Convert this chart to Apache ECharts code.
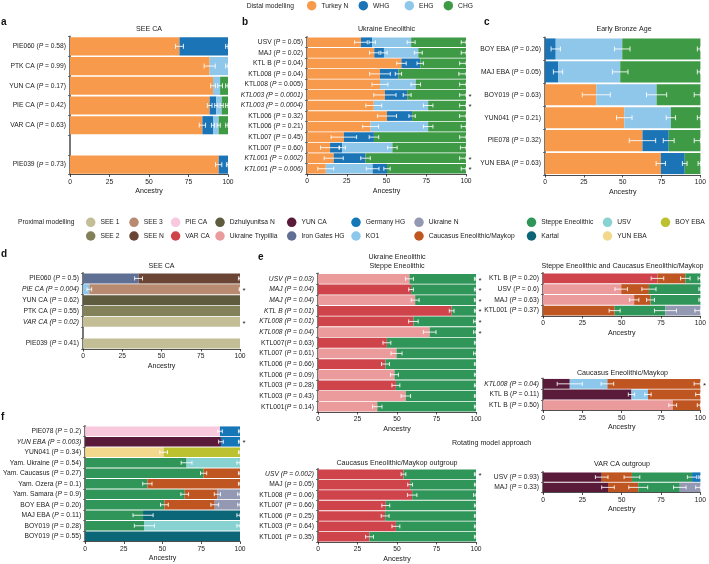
<!DOCTYPE html>
<html>
<head>
<meta charset="utf-8">
<script src="https://cdn.jsdelivr.net/npm/echarts@6/dist/echarts.min.js"></script>
<style>html,body{margin:0;padding:0;background:#fff}#c{width:709px;height:564px}</style>
</head>
<body>
<div id="c"></div>
<script>
// ---------- data ----------
const aLabels = ['PIE060 (P = 0.58)','PTK CA (P = 0.99)','YUN CA (P = 0.17)','PIE CA (P = 0.42)','VAR CA (P = 0.63)','','PIE039 (P = 0.73)'];
const aItalic = [0,0,0,0,0,0,0];
const aTurkey = [69.3, 88.4, 90.5, 88.4, 83.8, 0, 94.1];
const aWHG    = [30.7, 0, 0, 4.2, 6.7, 0, 5.9];
const aEHG    = [0, 11.6, 4.5, 3.4, 3.6, 0, 0];
const aCHG    = [0, 0, 5, 4, 5.9, 0, 0];
const aErr = [[2.5,1.5],[3.5,1.5],[1.5,1.5,1.5],[1.5,1,1,1.5],[2,1,1,1.5],[],[2,1]];

const bLabels = ['USV (P = 0.05)','MAJ (P = 0.02)','KTL B (P = 0.04)','KTL008 (P = 0.04)','KTL008 (P = 0.005)','KTL003 (P = 0.0001)','KTL003 (P = 0.0004)','KTL006 (P = 0.32)','KTL006 (P = 0.21)','KTL007 (P = 0.45)','KTL007 (P = 0.60)','KTL001 (P = 0.002)','KTL001 (P = 0.006)'];
const bItalic = [0,0,0,0,0,1,1,0,0,0,0,1,1];
const bTurkey = [33.9,42.3,59.4,45.9,45.9,49,42,50.3,40,23.2,14.5,16.8,11.8];
const bEHGpre = [0,0,0,0,0,0,0,0,0,0,0,0,29.5];
const bWHG    = [7.1,6.1,11.8,11.6,0,14,0,15.8,0,18.9,7.6,20,9];
const bEHG    = [24.5,21.6,0,0,22.5,0,34.2,0,36.2,0,31.6,0,0];
const bCHG    = [34.5,30,28.8,42.5,31.6,37,23.8,33.9,23.8,57.9,46.3,63.2,49.7];
const bErr = [[4,2,2.5,3],[3,2,2.5,3],[3,2,4],[6.5,2,4.5],[5,3,4],[7,2.5,4],[5,3,4],[6,2,4],[5,3,3],[8,3,4],[6,2,3,3.5],[6,3,4],[5,4,2,3]];

const cLabels = ['BOY EBA (P = 0.26)','MAJ EBA (P = 0.05)','BOY019 (P = 0.63)','YUN041 (P = 0.21)','PIE078 (P = 0.32)','YUN EBA (P = 0.63)'];
const cItalic = [0,0,0,0,0,0];
const cTurkey = [0,0,33,51,62.7,74.5];
const cWHG    = [6.9,8.4,0,0,16.9,15.4];
const cEHG    = [42.8,40,38.8,30,0,0];
const cCHG    = [50.3,51.6,28.2,19,20.4,10.1];
const cErr = [[3,5,2],[3,5,2],[9,6.5,4],[5,3,2],[8.5,3.5,4],[3,1.5,1.5]];

const dLabels = ['PIE060 (P = 0.5)','PIE CA (P = 0.004)','YUN CA (P = 0.62)','PTK CA (P = 0.55)','VAR CA (P = 0.02)','','PIE039 (P = 0.41)'];
const dItalic = [0,1,0,0,1,0,0];
const dIronGates = [35.4,0,0,0,0,0,0];
const dKO1       = [0,4,0,0,0,0,0];
const dSEEN      = [64.6,0,0,0,0,0,0];
const dSEE3      = [0,96,0,0,0,0,0];
const dDzhul     = [0,0,100,0,0,0,0];
const dSEE2      = [0,0,0,100,0,0,0];
const dSEE1      = [0,0,0,0,100,0,100];
const dErr = [[2.5,1],[1.5,0.5],[],[],[],[],[]];

const e1Labels = ['USV (P = 0.03)','MAJ (P = 0.04)','MAJ (P = 0.04)','KTL B (P = 0.01)','KTL008 (P = 0.01)','KTL008 (P = 0.04)','KTL007(P = 0.63)','KTL007 (P = 0.61)','KTL006 (P = 0.66)','KTL006 (P = 0.09)','KTL003 (P = 0.28)','KTL003 (P = 0.43)','KTL001(P = 0.14)'];
const e1Italic = [1,1,1,1,1,1,0,0,0,0,0,0,0];
const e1VAR    = [0,58.9,0,84.6,60.4,0,43.6,0,42.7,0,49.3,0,0];
const e1Tryp   = [57.9,0,61.5,0,0,70.7,0,49.7,0,48.4,0,55.6,37.5];
const e1Steppe = [42.1,41.1,38.5,15.4,39.6,29.3,56.4,50.3,57.3,51.6,50.7,44.4,62.5];
const e1Err = [[2.5,1],[1.5,1],[2.5,1],[1.5,1],[3,1.5],[4,1.5],[2.5,1],[3.5,1.5],[2.5,1],[2.5,1],[2.5,1],[3,1],[3,1]];

const e2Labels = ['KTL B (P = 0.20)','USV (P = 0.6)','MAJ (P = 0.63)','KTL001 (P = 0.37)'];
const e2Italic = [0,0,0,0];
const e2VAR    = [72.7,0,0,0];
const e2Tryp   = [0,49.7,57.9,0];
const e2Cauc   = [17.7,17.6,10.4,45.5];
const e2Steppe = [9.6,32.7,31.7,32.3];
const e2UkrN   = [0,0,0,22.2];
const e2Err = [[4,3,1.5],[4,4.5,1],[3,2.5,1],[3.5,7,3.5]];

const e3Labels = ['KTL008 (P = 0.04)','KTL B (P = 0.11)','KTL B (P = 0.50)'];
const e3Italic = [1,0,0];
const e3YUNCA  = [17,56.2,0];
const e3KO1    = [23.9,10.5,0];
const e3Tryp   = [0,0,82.4];
const e3Cauc   = [59.1,33.3,17.6];
const e3Err = [[8,4,4],[2,2,3],[2.5,2]];

const e4Labels = ['USV (P = 0.002)','MAJ (P = 0.05)','KTL008 (P = 0.06)','KTL007 (P = 0.66)','KTL006 (P = 0.25)','KTL003 (P = 0.64)','KTL001 (P = 0.35)'];
const e4Italic = [1,0,0,0,0,0,0];
const e4VAR    = [54.1,58.3,59.6,42.9,42.5,49.3,32.6];
const e4Steppe = [45.9,41.7,40.4,57.1,57.5,50.7,67.4];
const e4Err = [[1.5,1],[1.5,1],[3,1.5],[2.5,1],[2.5,1],[2.5,1],[2.5,1]];

const e5Labels = ['USV (P = 0.93)','MAJ (P = 0.33)'];
const e5Italic = [0,0];
const e5YUNCA  = [37.3,41.3];
const e5Cauc   = [19.2,19.2];
const e5Steppe = [38.2,26.4];
const e5GerHG  = [5.3,0];
const e5UkrN   = [0,13.1];
const e5Err = [[4,5,3,1],[4,6,4,3]];

const fLabels = ['PIE078 (P = 0.2)','YUN EBA (P = 0.003)','YUN041 (P = 0.34)','Yam. Ukraine (P = 0.54)','Yam. Caucasus (P = 0.27)','Yam. Ozera (P = 0.1)','Yam. Samara (P = 0.9)','BOY EBA (P = 0.20)','MAJ EBA (P = 0.11)','BOY019 (P = 0.28)','BOY019 (P = 0.55)'];
const fItalic = [0,1,0,0,0,0,0,0,0,0,0];
const fPIECA   = [87.1,0,0,0,0,0,0,0,0,0,0];
const fYUNCA   = [0,87.7,0,0,0,0,0,0,0,0,0];
const fYUNEBA  = [0,0,50.7,0,0,0,0,0,0,0,0];
const fSteppe  = [0,0,0,65.5,76.5,40.2,64.3,51.2,37.4,38.3,0];
const fCauc    = [0,0,0,0,23.5,59.8,21.1,32.5,0,0,0];
const fUkrN    = [0,0,0,0,0,0,14.6,16.3,0,0,0];
const fGerHG   = [12.9,12.3,0,0,0,0,0,0,0,0,0];
const fBOYEBA  = [0,0,49.3,0,0,0,0,0,0,0,0];
const fUSV     = [0,0,0,34.5,0,0,0,0,0,61.7,0];
const fKartal  = [0,0,0,0,0,0,0,0,62.6,0,100];
const fErr = [[1.5,1],[1.5,1],[2.5,1],[3.5,2],[2,1],[3,1],[2.5,2,1.5],[2.5,2.5,1.5],[6.5,2],[6.5,2],[]];

const xTicks = [0, 25, 50, 75, 100];

// ---------- style ----------
const FONT = '"Liberation Sans", Arial, Helvetica, sans-serif';
const LFS = 6.7;
const COL = {
  'Turkey N':'#f89a4c','WHG':'#1a74b6','EHG':'#8fc7ea','CHG':'#3f9a46',
  'SEE 1':'#c4be97','SEE 2':'#83815a','SEE 3':'#b88b70','SEE N':'#6a4434',
  'PIE CA':'#f8c8dd','VAR CA':'#cf444b','Dzhulyunitsa N':'#5f5b3f','Ukraine Trypillia':'#eb9b9b',
  'YUN CA':'#5a1a3a','Iron Gates HG':'#5f7094','Germany HG':'#1576b8','KO1':'#8dc7ec',
  'Ukraine N':'#9499b3','Caucasus Eneolithic/Maykop':'#bf5520','Steppe Eneolithic':'#2f9558',
  'Kartal':'#0b6678','USV':'#88d2d2','YUN EBA':'#f1d88c','BOY EBA':'#bcc12f'
};
const CA = 'Caucasus Eneolithic/Maykop', SE = 'Steppe Eneolithic';

const panels = [
  {grid:{left:70,top:36.5,width:158,height:138}, labels:aLabels, italic:aItalic, err:aErr,
   series:[['Turkey N',aTurkey],['WHG',aWHG],['EHG',aEHG],['CHG',aCHG]]},
  {grid:{left:307,top:37,width:159,height:137}, labels:bLabels, italic:bItalic, err:bErr,
   series:[['Turkey N',bTurkey],['EHG',bEHGpre],['WHG',bWHG],['EHG',bEHG],['CHG',bCHG]]},
  {grid:{left:545,top:37.5,width:158,height:137.5}, labels:cLabels, italic:cItalic, err:cErr,
   series:[['Turkey N',cTurkey],['WHG',cWHG],['EHG',cEHG],['CHG',cCHG]]},
  {grid:{left:83,top:273,width:157,height:76}, labels:dLabels, italic:dItalic, err:dErr,
   series:[['Iron Gates HG',dIronGates],['KO1',dKO1],['SEE N',dSEEN],['SEE 3',dSEE3],['Dzhulyunitsa N',dDzhul],['SEE 2',dSEE2],['SEE 1',dSEE1]]},
  {grid:{left:318,top:273.5,width:158,height:138.5}, labels:e1Labels, italic:e1Italic, err:e1Err,
   series:[['VAR CA',e1VAR],['Ukraine Trypillia',e1Tryp],[SE,e1Steppe]]},
  {grid:{left:543,top:273,width:159,height:43}, labels:e2Labels, italic:e2Italic, err:e2Err,
   series:[['VAR CA',e2VAR],['Ukraine Trypillia',e2Tryp],[CA,e2Cauc],[SE,e2Steppe],['Ukraine N',e2UkrN]]},
  {grid:{left:543,top:378.5,width:159,height:32}, labels:e3Labels, italic:e3Italic, err:e3Err,
   series:[['YUN CA',e3YUNCA],['KO1',e3KO1],['Ukraine Trypillia',e3Tryp],[CA,e3Cauc]]},
  {grid:{left:318,top:469,width:158,height:73}, labels:e4Labels, italic:e4Italic, err:e4Err,
   series:[['VAR CA',e4VAR],[SE,e4Steppe]]},
  {grid:{left:543,top:472,width:158,height:20.5}, labels:e5Labels, italic:e5Italic, err:e5Err,
   series:[['YUN CA',e5YUNCA],[CA,e5Cauc],[SE,e5Steppe],['Germany HG',e5GerHG],['Ukraine N',e5UkrN]]},
  {grid:{left:83,top:426,width:157,height:115.5}, labels:fLabels, italic:fItalic, err:fErr,
   series:[['PIE CA',fPIECA],['YUN CA',fYUNCA],['YUN EBA',fYUNEBA],[SE,fSteppe],[CA,fCauc],['Ukraine N',fUkrN],['Germany HG',fGerHG],['BOY EBA',fBOYEBA],['USV',fUSV],['Kartal',fKartal]]}
];

function fmtLabel(s, it) {
  if (!s) return '';
  const k = s.indexOf('P = ');
  const st = it ? 'it' : 'n';
  return '{' + st + '|' + s.slice(0, k) + '}{it|P}{' + st + '|' + s.slice(k + 1) + '}';
}

const grids = [], xAxes = [], yAxes = [], series = [];
panels.forEach((p, i) => {
  grids.push(p.grid);
  xAxes.push({
    type:'value', gridIndex:i, min:0, max:100, interval:25,
    axisLine:{show:true, lineStyle:{color:'#222', width:0.8}},
    axisTick:{show:true, length:2.5, lineStyle:{color:'#222', width:0.8}},
    axisLabel:{fontSize:LFS, fontFamily:FONT, color:'#222', margin:4,
      formatter:v => xTicks.includes(v) ? String(v) : ''},
    splitLine:{show:false},
    name:'Ancestry', nameLocation:'middle', nameGap:13.5,
    nameTextStyle:{fontSize:7.1, fontFamily:FONT, color:'#222'}
  });
  yAxes.push({
    type:'category', gridIndex:i, inverse:true,
    data:p.labels.map((_, r) => String(r)),
    axisLine:{show:true, lineStyle:{color:'#777', width:2}},
    axisTick:{show:true, interval:0, length:2, lineStyle:{color:'#555', width:0.8}},
    axisLabel:{margin:4, interval:0, formatter:(v, idx) => fmtLabel(p.labels[idx], p.italic[idx]),
      rich:{n:{fontSize:LFS, fontFamily:FONT, color:'#1a1a1a'},
            it:{fontSize:LFS, fontFamily:FONT, color:'#1a1a1a', fontStyle:'italic'}}}
  });
  p.series.forEach(([name, data]) => {
    series.push({
      type:'bar', name, xAxisIndex:i, yAxisIndex:i, stack:'s' + i, data,
      barCategoryGap:'8%', itemStyle:{color:COL[name]}, silent:true,
      emphasis:{disabled:true}
    });
  });
  series.push({
    type:'custom', name:'err' + i, xAxisIndex:i, yAxisIndex:i, z:10, silent:true,
    data:p.labels.map((_, r) => [0, r]),
    encode:{x:0, y:1},
    renderItem:(params, api) => {
      const r = api.value(1);
      const bw = api.size([0, 1])[1];
      const cap = Math.min(5, bw * 0.38) / 2;
      const children = [];
      const errs = p.err[r] || [];
      let cum = 0, k = 0;
      p.series.forEach(([n, d]) => {
        const v = d[r];
        if (!v) return;
        cum += v;
        const e = errs[k++];
        if (e == null) return;
        const lo = Math.max(0, cum - e), hi = Math.min(100, cum + e);
        const p1 = api.coord([lo, r]), p2 = api.coord([hi, r]);
        const st = {stroke:'#fff', lineWidth:0.9, opacity:0.95};
        children.push({type:'line', shape:{x1:p1[0], y1:p1[1], x2:p2[0], y2:p2[1]}, style:st});
        children.push({type:'line', shape:{x1:p1[0], y1:p1[1]-cap, x2:p1[0], y2:p1[1]+cap}, style:st});
        children.push({type:'line', shape:{x1:p2[0], y1:p2[1]-cap, x2:p2[0], y2:p2[1]+cap}, style:st});
      });
      if (p.italic[r]) {
        const q = api.coord([100, r]);
        children.push({type:'text', x:q[0] + 2.5, y:q[1] + 1.5,
          style:{text:'*', fontSize:8, fontFamily:FONT, fill:'#222', textVerticalAlign:'middle'}});
      }
      return {type:'group', children};
    }
  });
});

// legends
const legendBase = {orient:'vertical', itemWidth:9.5, itemHeight:9.5, icon:'circle', padding:0,
  selectedMode:false, textStyle:{fontSize:LFS, fontFamily:FONT, color:'#222'}};
const legends = [];
[[311.7,['Turkey N']],[363.3,['WHG']],[409.3,['EHG']],[448.3,['CHG']]].forEach(([cx, names]) => {
  legends.push(Object.assign({}, legendBase, {left:cx - 4.75, top:5.7 - 4.75, itemGap:4, data:names}));
});
[[90.7,['SEE 1','SEE 2']],[134,['SEE 3','SEE N']],[175.6,['PIE CA','VAR CA']],[220,['Dzhulyunitsa N','Ukraine Trypillia']],
 [291.7,['YUN CA','Iron Gates HG']],[356,['Germany HG','KO1']],[419,['Ukraine N',CA]],[531.5,[SE,'Kartal']],
 [607.5,['USV','YUN EBA']],[665.5,['BOY EBA']]].forEach(([cx, names]) => {
  legends.push(Object.assign({}, legendBase, {left:cx - 4.75, top:222.3 - 4.75, itemGap:4.2, data:names}));
});

function txt(x, y, text, opt) {
  return {type:'text', x, y, silent:true, style:Object.assign({text, fontSize:7.1, fontFamily:FONT, fill:'#222',
    textAlign:'center', textVerticalAlign:'middle'}, opt || {})};
}
const bold = {fontSize:10, fontWeight:'bold', fill:'#111', textAlign:'left'};
const graphics = [
  txt(1, 22, 'a', bold), txt(242, 22, 'b', bold), txt(484, 22, 'c', bold),
  txt(1, 254, 'd', bold), txt(258, 257, 'e', bold), txt(1, 417, 'f', bold),
  txt(149, 29, 'SEE CA'), txt(386.5, 29, 'Ukraine Eneolithic'), txt(624, 29, 'Early Bronze Age'),
  txt(161.5, 266.5, 'SEE CA'), txt(397, 257, 'Ukraine Eneolithic'), txt(397, 266, 'Steppe Eneolithic'),
  txt(622.5, 266, 'Steppe Eneolithic and Caucasus Eneolithic/Maykop'),
  txt(622.5, 373, 'Caucasus Eneolithic/Maykop'),
  txt(397, 463, 'Caucasus Eneolithic/Maykop outgroup'),
  txt(622, 464, 'VAR CA outgroup'),
  txt(452, 443.5, 'Rotating model approach', {textAlign:'left'}),
  txt(246.7, 5.9, 'Distal modelling', {textAlign:'left', fontSize:LFS}),
  txt(18, 222.3, 'Proximal modelling', {textAlign:'left', fontSize:LFS})
];

const chart = echarts.init(document.getElementById('c'), null, {renderer:'canvas'});
chart.setOption({
  animation:false,
  backgroundColor:'#fff',
  grid:grids, xAxis:xAxes, yAxis:yAxes, series, legend:legends,
  graphic:graphics
});
</script>
</body>
</html>
